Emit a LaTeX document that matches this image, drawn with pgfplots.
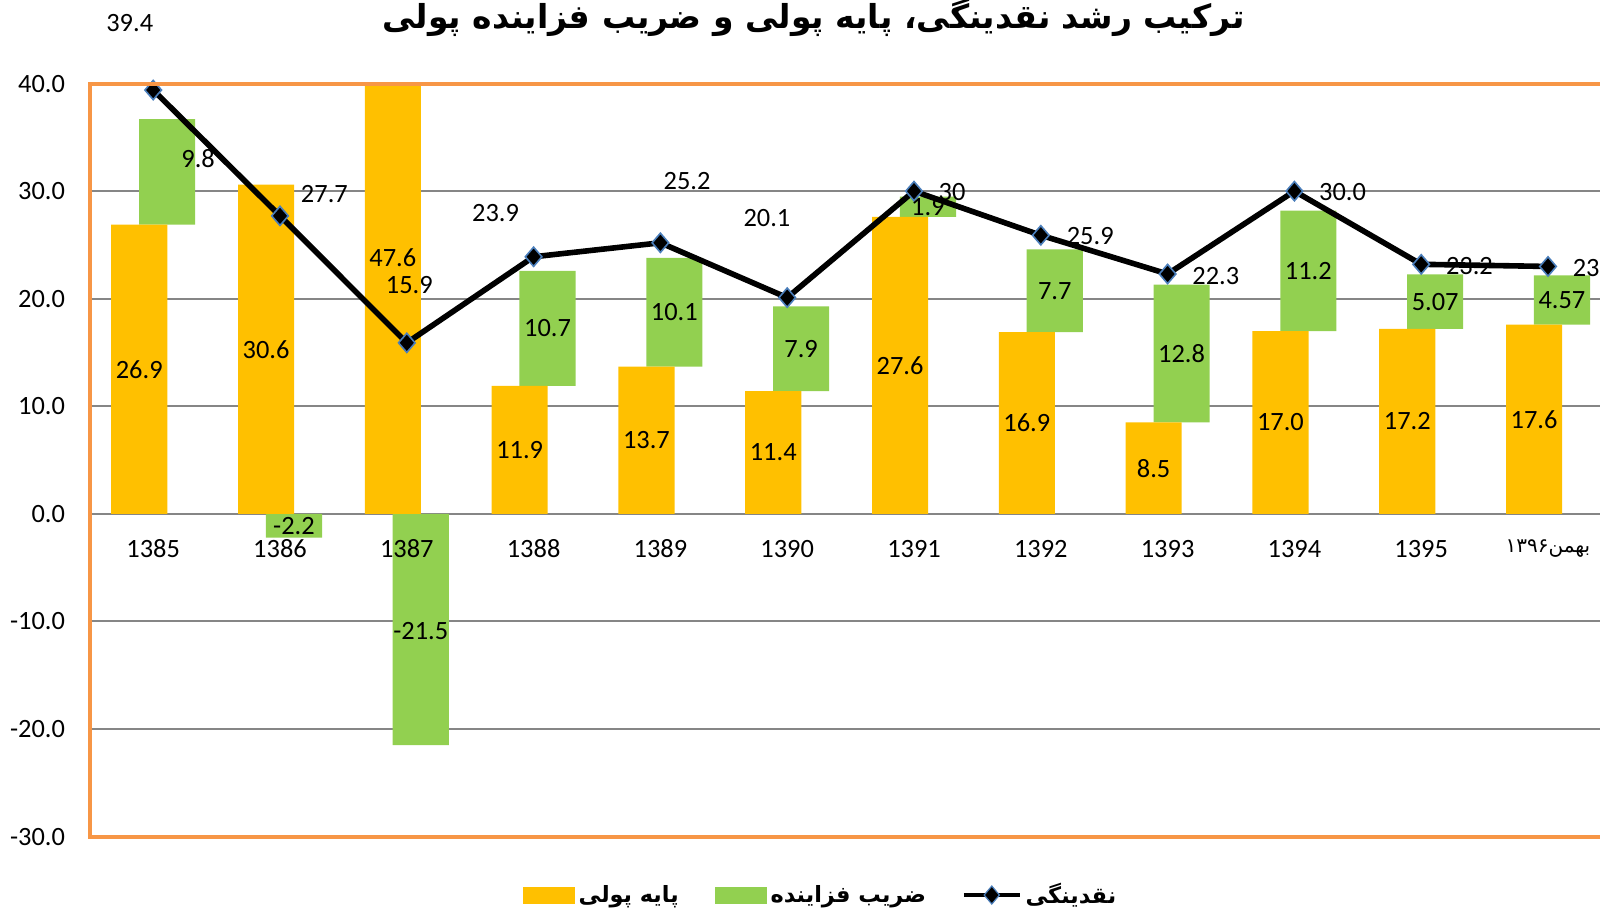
\documentclass[border=0pt]{standalone}
\usepackage{pgfplots}
\pgfplotsset{compat=1.18}
\usepackage{pgfplotstable}
\usepackage{fontspec}
\setmainfont{Carlito}
\newfontfamily\arabicfont[Script=Arabic]{DejaVu Sans}
\TeXXeTstate=1
\definecolor{orangeC}{HTML}{FFC000}
\definecolor{greenC}{HTML}{92D050}
\definecolor{frameC}{HTML}{F79646}
\definecolor{gridC}{HTML}{868686}
\definecolor{blueC}{HTML}{4A7EBB}

% x: category index, o: monetary base, g: multiplier, base: start of green bar, m: liquidity
\pgfplotstableread{
x o g base m
0 26.9 9.8 26.9 39.4
1 30.6 -2.2 0 27.7
2 47.6 -21.5 0 15.9
3 11.9 10.7 11.9 23.9
4 13.7 10.1 13.7 25.2
5 11.4 7.9 11.4 20.1
6 27.6 1.9 27.6 30.0
7 16.9 7.7 16.9 25.9
8 8.5 12.8 8.5 22.3
9 17.0 11.2 17.0 30.0
10 17.2 5.07 17.2 23.2
11 17.6 4.57 17.6 23.0
}\data

% label positions and texts
\pgfplotstableread{
x y t
-0.185 45.6 39.4
1.35 29.7 27.7
2.02 21.25 15.9
2.70 28.0 23.9
4.21 30.9 25.2
4.84 27.5 20.1
6.30 29.9 30
7.39 25.8 25.9
8.38 22.1 22.3
9.38 29.9 30.0
10.38 23.05 23.2
11.38 22.9 23.0
-0.11 13.45 26.9
0.89 15.3 30.6
1.89 23.8 47.6
2.89 5.95 11.9
3.89 6.85 13.7
4.89 5.7 11.4
5.89 13.8 27.6
6.89 8.45 16.9
7.89 4.25 8.5
8.89 8.5 17.0
9.89 8.6 17.2
10.89 8.8 17.6
0.354 33.0 9.8
1.11 -1.1 -2.2
2.11 -10.9 -21.5
3.11 17.25 10.7
4.11 18.75 10.1
5.11 15.35 7.9
6.11 28.5 1.9
7.11 20.75 7.7
8.11 14.9 12.8
9.11 22.6 11.2
10.11 19.7 5.07
11.11 19.9 4.57
}\labels

\pgfplotsset{base/.style={at={(44.9pt,39.2pt)}, anchor=south west, scale only axis,
  width=760.8pt, height=376.5pt, xmin=-0.5, xmax=11.5, ymin=-30, ymax=40, enlargelimits=false}}

\begin{document}
\begin{tikzpicture}[font=\fontsize{13.2}{15.8}\selectfont]
% grid, y tick labels, multiplier bars
\begin{axis}[base, ybar stacked, bar width=0.4425, bar shift=0.11,
  axis line style={draw=none}, major tick length=0pt,
  ymajorgrids, grid style={gridC, line width=1pt},
  ytick={-30,-20,...,40}, xtick=\empty,
  yticklabel style={anchor=east, inner sep=0pt, xshift=-12.2pt,
    /pgf/number format/.cd, fixed, fixed zerofill, precision=1, assume math mode=true},
]
\addplot[draw=none, fill=none] table[x=x, y=base] {\data};
\addplot[fill=greenC, draw=none] table[x=x, y=g] {\data};
\end{axis}
% monetary base bars and liquidity line
\begin{axis}[base, hide axis, ybar, bar width=0.4425, bar shift=-0.11]
\addplot[fill=orangeC, draw=none] table[x=x, y=o] {\data};
\addplot[sharp plot, black, line width=2.8pt, mark=diamond*, mark size=4.8pt,
  mark options={fill=black, draw=blueC, line width=0.8pt, solid, xscale=1.15}] table[x=x, y=m] {\data};
\end{axis}
% x tick labels, labels, frame, title, legend
\begin{axis}[base, clip=false, axis line style={draw=none}, major tick length=0pt,
  ytick=\empty,
  xtick={0,...,11},
  xticklabels={1385,1386,1387,1388,1389,1390,1391,1392,1393,1394,1395,{\arabicfont\fontsize{10}{12}\selectfont\beginR بهمن\beginL۱۳۹۶\endL\endR}},
  xticklabel style={anchor=center, yshift=143.8pt},
  legend style={at={(0.4809,-0.0776)}, anchor=center, draw=none, fill=none,
    legend columns=3, font=\arabicfont\bfseries\fontsize{11.2}{13}\selectfont,
    /tikz/every even column/.append style={column sep=16pt}},
]
\addplot[draw=none, mark=none, forget plot, nodes near coords, point meta=explicit symbolic,
  nodes near coords align=center,
  every node near coord/.append style={anchor=center, inner sep=0pt, text=black}]
  table[x=x, y=y, meta=t] {\labels};
\draw[frameC, line width=2pt] (rel axis cs:1,1) -- (rel axis cs:0,1) -- (rel axis cs:0,0) -- (rel axis cs:1,0);
\node[font=\arabicfont\bfseries\fontsize{16.5}{20}\selectfont, anchor=south, inner sep=0pt] at (rel axis cs:0.4756,1.0625)
  {\beginR ترکیب رشد نقدینگی، پایه پولی و ضریب فزاینده پولی\endR};
\addlegendimage{legend image code/.code={\fill[orangeC] (0pt,-4pt) rectangle (25.5pt,4pt);}}
\addlegendentry{\beginR پایه پولی\endR}
\addlegendimage{legend image code/.code={\fill[greenC] (0pt,-4pt) rectangle (25.5pt,4pt);}}
\addlegendentry{\beginR ضریب فزاینده\endR}
\addlegendimage{legend image code/.code={\draw[black, line width=1.75pt] (0pt,0pt) -- (28pt,0pt);
  \filldraw[fill=black, draw=blueC, line width=0.6pt] (14pt,4.5pt) -- (17.8pt,0pt) -- (14pt,-4.5pt) -- (10.2pt,0pt) -- cycle;}}
\addlegendentry{\beginR نقدینگی\endR}
\end{axis}
\pgfresetboundingbox
\path[use as bounding box] (0pt,0pt) rectangle (800pt,457.5pt);
\end{tikzpicture}
\end{document}
